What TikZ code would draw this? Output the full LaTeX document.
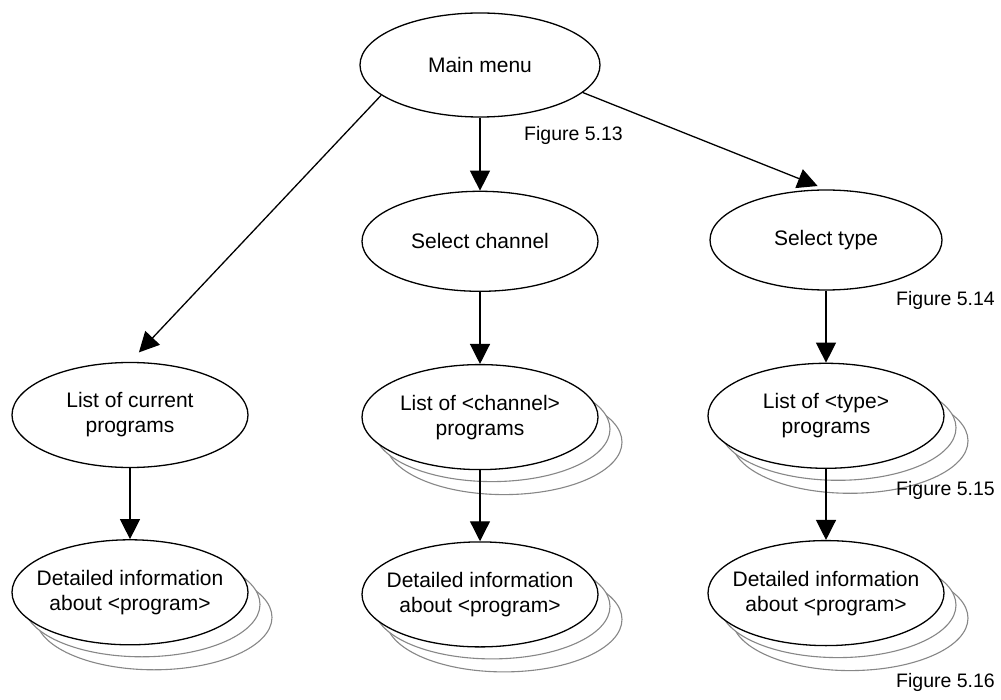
\documentclass[tikz,border=0pt]{standalone}
\usepackage{fontspec}
\setmainfont{Liberation Sans}
\usepackage{tikz}
\usetikzlibrary{shapes.geometric, arrows.meta, positioning, backgrounds}
\definecolor{stackgray}{RGB}{135, 135, 135}

\begin{document}
\begin{tikzpicture}[
    x=1pt, y=-1pt,
    >={Triangle[length=20pt, width=20pt]},
    screen/.style={
        ellipse, draw=black, fill=white,
        line width=1.3pt, align=center,
        inner xsep=-15pt, inner ysep=0pt,
        minimum width=236pt, minimum height=105pt,
        font=\fontsize{21}{25}\selectfont
    },
    stack/.style={
        ellipse, draw=stackgray, fill=white,
        line width=1.1pt,
        minimum width=236pt, minimum height=105pt
    },
    figlabel/.style={font=\fontsize{19.5}{23}\selectfont, inner sep=0pt},
    arrow/.style={->, line width=1.3pt, draw=black}
]
\useasboundingbox (0,0) rectangle (1001,700);

% ==============================================================================
% TOP: MAIN MENU AND THE TWO SELECTION SCREENS
% ==============================================================================
\node[screen, minimum width=240pt, minimum height=104pt] (main) at (480, 65) {Main menu};

\node[screen, minimum height=100pt, below=73pt of main] (channel) {Select channel};
\node[screen, minimum width=232pt, minimum height=100pt] (type) at (826, 240) {Select type};

\node[figlabel, anchor=west] (fig13) at (524, 135) {Figure 5.13};
\node[figlabel, anchor=east] (fig14) at (995, 300) {Figure 5.14};

% ==============================================================================
% MIDDLE: PROGRAM LISTS
% ==============================================================================
\node[screen] (curlist) at (130, 415) {List of current\\programs};
\node[screen, below=72pt of channel] (chanlist) {List of <channel>\\programs};
\node[screen, below=72pt of type] (typelist) {List of <type>\\programs};

\node[figlabel, anchor=east] (fig15) at (995, 490) {Figure 5.15};

% ==============================================================================
% BOTTOM: PROGRAM DETAILS
% ==============================================================================
\node[screen, below=71pt of curlist] (curdetail) {Detailed information\\about <program>};
\node[screen, below=71pt of chanlist] (chandetail) {Detailed information\\about <program>};
\node[screen, below=71pt of typelist] (typedetail) {Detailed information\\about <program>};

\node[figlabel, anchor=east] (fig16) at (995, 682) {Figure 5.16};

% stacked copies behind the multi-instance screens
\begin{scope}[on background layer]
    \foreach \n in {chanlist, typelist, curdetail, chandetail, typedetail} {
        \node[stack] at ([shift={(24pt,-25pt)}]\n.center) {};
        \node[stack] at ([shift={(12pt,-12pt)}]\n.center) {};
    }
\end{scope}

% ==============================================================================
% CONNECTORS
% ==============================================================================
\draw[arrow] (main) -- (channel);
\draw[arrow, shorten >=13pt] (main.197) -- (curlist.north);
\draw[arrow, shorten >=9pt] (main.345) -- (type.north);

\draw[arrow] (channel) -- (chanlist);
\draw[arrow] (type) -- (typelist);

\draw[arrow] (curlist) -- (curdetail);
\draw[arrow] (chanlist) -- (chandetail);
\draw[arrow] (typelist) -- (typedetail);

\end{tikzpicture}
\end{document}
